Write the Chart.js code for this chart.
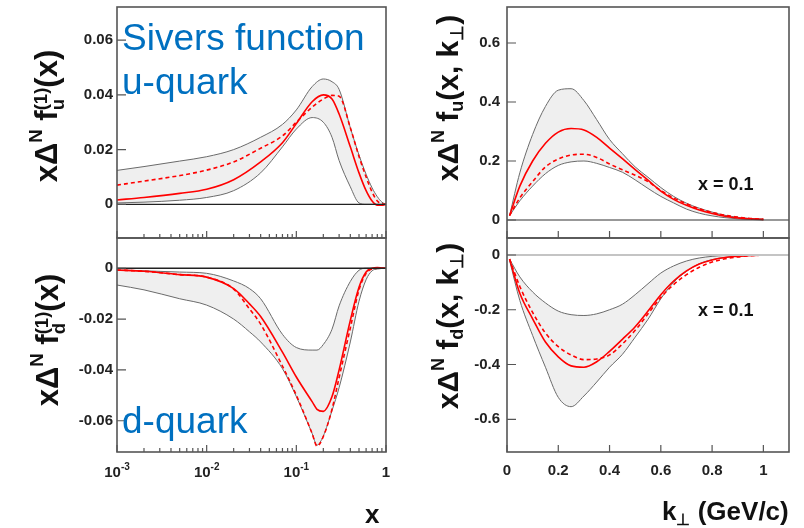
<!DOCTYPE html>
<html lang="en">
<head>
<meta charset="UTF-8">
<title>Sivers function</title>
<script src="https://cdn.jsdelivr.net/npm/chart.js"></script>
<style>
  body { margin: 0; background: #fff; font-family: "Liberation Sans", Arial, sans-serif; }
  #page { position: relative; width: 804px; height: 528px; overflow: hidden; }
  .panel { position: absolute; }
  .txt { position: absolute; white-space: nowrap; color: #111; line-height: 1; }
  .ytitle { font-weight: bold; font-size: 31px; transform: translate(-50%, -50%) rotate(-90deg); }
  .ytitle.k { font-size: 30px; }
  .ytitle sup { font-size: 0.6em; vertical-align: 0.8em; line-height: 0; }
  .ytitle sub, .xtitle sub { font-size: 0.6em; vertical-align: -0.3em; line-height: 0; }
  .ss { display: inline-block; font-size: 0.6em; line-height: 0.95; vertical-align: -0.4em; }
  .ss span { display: block; }
  .blue { position: absolute; color: #0070c0; font-size: 37px; line-height: 44px; white-space: nowrap; }
  .xeq { font-weight: bold; font-size: 18px; }
  .xtitle { font-weight: bold; font-size: 26px; }
</style>
</head>
<body>
<div id="page">
  <div class="panel" style="left:0;top:0;width:400px;height:240px"><canvas id="uX"></canvas></div>
  <div class="panel" style="left:0;top:236px;width:400px;height:292px"><canvas id="dX"></canvas></div>
  <div class="panel" style="left:400px;top:0;width:404px;height:240px"><canvas id="uK"></canvas></div>
  <div class="panel" style="left:400px;top:236px;width:404px;height:292px"><canvas id="dK"></canvas></div>

  <div class="txt ytitle" style="left:49px;top:116px">x&Delta;<sup>N</sup> f<span class="ss"><span>(1)</span><span>u</span></span>(x)</div>
  <div class="txt ytitle" style="left:50px;top:340px">x&Delta;<sup>N</sup> f<span class="ss"><span>(1)</span><span>d</span></span>(x)</div>
  <div class="txt ytitle k" style="left:448px;top:98px">x&Delta;<sup>N</sup> f<sub>u</sub>(x, k<sub>&perp;</sub>)</div>
  <div class="txt ytitle k" style="left:448px;top:326px">x&Delta;<sup>N</sup> f<sub>d</sub>(x, k<sub>&perp;</sub>)</div>

  <div class="blue" style="left:122px;top:16px">Sivers function<br>u-quark</div>
  <div class="blue" style="left:122px;top:399px">d-quark</div>

  <div class="txt xeq" style="left:698px;top:175px">x = 0.1</div>
  <div class="txt xeq" style="left:698px;top:301px">x = 0.1</div>

  <div class="txt xtitle" style="left:365px;top:501px">x</div>
  <div class="txt xtitle" style="left:662px;top:498px">k<sub>&perp;</sub> (GeV/c)</div>
</div>

<script>
// u-quark first moment vs x
const xU = [0.001, 0.002, 0.005, 0.01, 0.02, 0.04, 0.07, 0.1, 0.15, 0.2, 0.25, 0.3, 0.4, 0.5, 0.6, 0.7, 0.8, 0.9, 1.0];
const uUpper   = [0.0124, 0.0138, 0.0158, 0.0174, 0.0200, 0.0245, 0.0292, 0.0345, 0.0430, 0.0458, 0.0448, 0.0420, 0.0280, 0.0180, 0.0110, 0.0060, 0.0028, 0.0008, 0];
const uLower   = [0.0005, 0.0008, 0.0015, 0.0025, 0.0050, 0.0115, 0.0210, 0.0275, 0.0317, 0.0300, 0.0245, 0.0160, 0.0064, 0.0005, 0, 0, 0, 0, 0];
const uCentral = [0.0016, 0.0025, 0.0040, 0.0055, 0.0090, 0.0155, 0.0225, 0.0295, 0.0375, 0.0400, 0.0385, 0.0330, 0.0210, 0.0115, 0.0050, 0.0012, -0.0003, -0.0003, 0];
const uDashed  = [0.0070, 0.0085, 0.0105, 0.0125, 0.0155, 0.0205, 0.0250, 0.0300, 0.0355, 0.0385, 0.0398, 0.0395, 0.0280, 0.0175, 0.0100, 0.0045, 0.0012, 0.0002, 0];

// d-quark first moment vs x
const xD = [0.001, 0.002, 0.005, 0.01, 0.02, 0.03, 0.04, 0.07, 0.1, 0.15, 0.17, 0.2, 0.25, 0.3, 0.4, 0.5, 0.6, 0.7, 0.8, 1.0];
const dUpper   = [-0.0007, -0.0010, -0.0015, -0.0020, -0.0050, -0.0080, -0.0120, -0.0260, -0.0312, -0.0322, -0.0322, -0.0300, -0.0240, -0.0148, -0.0052, -0.0008, 0, 0, 0, 0];
const dLower   = [-0.0066, -0.0085, -0.0120, -0.0145, -0.0200, -0.0250, -0.0290, -0.0395, -0.0505, -0.0650, -0.0696, -0.0660, -0.0560, -0.0470, -0.0290, -0.0130, -0.0045, -0.0010, -0.0003, 0];
const dCentral = [-0.0007, -0.0012, -0.0025, -0.0035, -0.0080, -0.0140, -0.0190, -0.0330, -0.0428, -0.0525, -0.0555, -0.0563, -0.0505, -0.0400, -0.0205, -0.0075, -0.0015, 0, 0.0003, 0];
const dDashed  = [-0.0007, -0.0012, -0.0025, -0.0035, -0.0082, -0.0160, -0.0220, -0.0385, -0.0500, -0.0650, -0.0700, -0.0662, -0.0555, -0.0430, -0.0235, -0.0085, -0.0020, -0.0003, 0, 0];

// k_perp distributions at x = 0.1
const kPerp = [0.01, 0.05, 0.1, 0.15, 0.2, 0.25, 0.3, 0.35, 0.4, 0.45, 0.5, 0.55, 0.6, 0.65, 0.7, 0.75, 0.8, 0.85, 0.9, 0.95, 1.0];
const ukUpper   = [0.015, 0.16, 0.29, 0.385, 0.44, 0.445, 0.405, 0.34, 0.273, 0.225, 0.18, 0.145, 0.11, 0.08, 0.057, 0.04, 0.027, 0.016, 0.009, 0.005, 0.003];
const ukLower   = [0.015, 0.065, 0.115, 0.157, 0.185, 0.197, 0.2, 0.192, 0.178, 0.162, 0.136, 0.107, 0.08, 0.058, 0.037, 0.023, 0.014, 0.008, 0.004, 0.002, 0];
const ukCentral = [0.015, 0.115, 0.2, 0.26, 0.298, 0.31, 0.305, 0.28, 0.244, 0.208, 0.171, 0.135, 0.098, 0.07, 0.05, 0.034, 0.022, 0.013, 0.007, 0.004, 0.002];
const ukDashed  = [0.015, 0.075, 0.13, 0.18, 0.207, 0.22, 0.223, 0.212, 0.19, 0.17, 0.152, 0.13, 0.1, 0.075, 0.055, 0.038, 0.026, 0.016, 0.01, 0.005, 0.002];

const dkUpper   = [-0.015, -0.08, -0.135, -0.175, -0.205, -0.218, -0.221, -0.215, -0.2, -0.18, -0.145, -0.105, -0.066, -0.04, -0.022, -0.011, -0.005, -0.002, -0.001, -0.0005, 0];
const dkLower   = [-0.02, -0.166, -0.294, -0.41, -0.52, -0.554, -0.515, -0.464, -0.41, -0.363, -0.3, -0.235, -0.16, -0.1, -0.06, -0.032, -0.017, -0.009, -0.004, -0.002, 0];
const dkCentral = [-0.015, -0.14, -0.233, -0.318, -0.372, -0.405, -0.41, -0.39, -0.352, -0.308, -0.262, -0.205, -0.145, -0.095, -0.058, -0.033, -0.018, -0.009, -0.005, -0.002, 0];
const dkDashed  = [-0.015, -0.115, -0.21, -0.285, -0.335, -0.365, -0.382, -0.38, -0.365, -0.325, -0.275, -0.215, -0.155, -0.108, -0.072, -0.045, -0.026, -0.014, -0.007, -0.003, 0];

// tick positions and labels
const yTicksUx = [0, 0.02, 0.04, 0.06];
const yTicksDx = [0, -0.02, -0.04, -0.06];
const yTicksUk = [0, 0.2, 0.4, 0.6];
const yTicksDk = [0, -0.2, -0.4, -0.6];
const kTicks = [0, 0.2, 0.4, 0.6, 0.8, 1];
const logDecades = [0.001, 0.01, 0.1];
const logLabelVals = [0.001, 0.01, 0.1, 1];
const logLabels = [['10', '-3'], ['10', '-2'], ['10', '-1'], ['1', '']];

const logTicks = [];
logDecades.forEach(d => { for (let m = 1; m <= 9; m++) logTicks.push(d * m); });
logTicks.push(1);

const red = '#ff0000';
const bandLine = '#6a6a6a';
const bandFill = '#efefef';
const fontFam = '"Liberation Sans", Arial, sans-serif';

function pts(xs, ys) {
  return xs.map((x, i) => ({ x: x, y: ys[i] }));
}

// frame, inward ticks, zero line and log labels drawn from the chart's own scales
const framePlugin = {
  id: 'frame',
  afterDatasetsDraw(chart, args, opts) {
    const ctx = chart.ctx;
    const a = chart.chartArea;
    const x = chart.scales.x, y = chart.scales.y;
    ctx.save();
    const y0 = y.getPixelForValue(0);
    ctx.strokeStyle = opts.zeroColor;
    ctx.lineWidth = opts.zeroWidth;
    ctx.beginPath();
    ctx.moveTo(a.left, y0);
    ctx.lineTo(a.right, y0);
    ctx.stroke();

    ctx.strokeStyle = '#555';
    ctx.lineWidth = 1.2;
    ctx.beginPath();
    y.ticks.forEach(t => {
      const py = y.getPixelForValue(t.value);
      ctx.moveTo(a.left, py);
      ctx.lineTo(a.left + 9, py);
    });
    x.ticks.forEach(t => {
      const px = x.getPixelForValue(t.value);
      let len = 7;
      if (x.type === 'logarithmic') {
        const m = t.value / Math.pow(10, Math.floor(Math.log10(t.value) + 1e-9));
        len = Math.abs(m - 1) < 1e-6 ? 7 : 4;
      }
      ctx.moveTo(px, a.bottom);
      ctx.lineTo(px, a.bottom - len);
    });
    ctx.stroke();

    ctx.lineWidth = 1.6;
    ctx.strokeRect(a.left, a.top, a.right - a.left, a.bottom - a.top);

    if (opts.logLabels) {
      ctx.fillStyle = '#222';
      ctx.textBaseline = 'alphabetic';
      logLabelVals.forEach((v, i) => {
        const px = x.getPixelForValue(v);
        const base = logLabels[i][0], exp = logLabels[i][1];
        ctx.font = 'bold 15px ' + fontFam;
        const wb = ctx.measureText(base).width;
        ctx.font = 'bold 10px ' + fontFam;
        const we = exp ? ctx.measureText(exp).width : 0;
        const left = px - (wb + we) / 2;
        ctx.font = 'bold 15px ' + fontFam;
        ctx.fillText(base, left, a.bottom + 25);
        if (exp) {
          ctx.font = 'bold 10px ' + fontFam;
          ctx.fillText(exp, left + wb, a.bottom + 18);
        }
      });
    }
    ctx.restore();
  }
};

function makeChart(id, o) {
  const datasets = [
    { data: pts(o.xs, o.upper), borderColor: bandLine, borderWidth: 1, backgroundColor: bandFill, fill: '+1', order: 3 },
    { data: pts(o.xs, o.lower), borderColor: bandLine, borderWidth: 1, fill: false, order: 2 },
    { data: pts(o.xs, o.central), borderColor: red, borderWidth: 1.6, fill: false, order: 1 },
    { data: pts(o.xs, o.dashed), borderColor: red, borderWidth: 1.6, borderDash: [4, 3], fill: false, order: 0 }
  ];
  return new Chart(document.getElementById(id), {
    type: 'line',
    data: { datasets: datasets },
    options: {
      responsive: true,
      maintainAspectRatio: false,
      animation: false,
      layout: { padding: o.padding },
      elements: { point: { radius: 0 }, line: { cubicInterpolationMode: 'monotone' } },
      plugins: {
        legend: { display: false },
        tooltip: { enabled: false },
        frame: { zeroColor: o.zeroColor, zeroWidth: o.zeroWidth, logLabels: o.logLabels }
      },
      scales: {
        x: {
          type: o.xType,
          min: o.xMin,
          max: o.xMax,
          grid: { display: false, drawTicks: false },
          border: { display: false },
          ticks: {
            display: o.xLabels,
            autoSkip: false,
            maxRotation: 0,
            padding: 10,
            color: '#222',
            font: { family: fontFam, size: 15, weight: 'bold' },
            callback: v => String(v)
          },
          afterBuildTicks: s => { s.ticks = o.xTicks.map(v => ({ value: v })); },
          afterFit: s => { s.height = o.xHeight; s.paddingLeft = 0; s.paddingRight = 0; }
        },
        y: {
          min: o.yMin,
          max: o.yMax,
          grid: { display: false, drawTicks: false },
          border: { display: false },
          ticks: {
            padding: o.yPad,
            color: '#222',
            font: { family: fontFam, size: 15, weight: 'bold' },
            callback: v => String(Math.round(v * 1000) / 1000)
          },
          afterBuildTicks: s => { s.ticks = o.yTicks.map(v => ({ value: v })); },
          afterFit: s => { s.width = o.yWidth; s.paddingTop = 0; s.paddingBottom = 0; }
        }
      }
    },
    plugins: [framePlugin]
  });
}

makeChart('uX', {
  xs: xU, upper: uUpper, lower: uLower, central: uCentral, dashed: uDashed,
  xType: 'logarithmic', xMin: 0.001, xMax: 1, xTicks: logTicks, xLabels: false, xHeight: 0,
  yMin: -0.0123, yMax: 0.0721, yTicks: yTicksUx, yWidth: 117, yPad: 4,
  padding: { top: 7, right: 14, bottom: 2, left: 0 },
  zeroColor: '#222', zeroWidth: 1.4, logLabels: false
});

makeChart('dX', {
  xs: xD, upper: dUpper, lower: dLower, central: dCentral, dashed: dDashed,
  xType: 'logarithmic', xMin: 0.001, xMax: 1, xTicks: logTicks, xLabels: false, xHeight: 0,
  yMin: -0.0723, yMax: 0.0119, yTicks: yTicksDx, yWidth: 117, yPad: 4,
  padding: { top: 2, right: 14, bottom: 76, left: 0 },
  zeroColor: '#222', zeroWidth: 1.4, logLabels: true
});

makeChart('uK', {
  xs: kPerp, upper: ukUpper, lower: ukLower, central: ukCentral, dashed: ukDashed,
  xType: 'linear', xMin: 0, xMax: 1.1, xTicks: kTicks, xLabels: false, xHeight: 0,
  yMin: -0.061, yMax: 0.722, yTicks: yTicksUk, yWidth: 107, yPad: 7,
  padding: { top: 7, right: 15, bottom: 2, left: 0 },
  zeroColor: '#333', zeroWidth: 1.2, logLabels: false
});

makeChart('dK', {
  xs: kPerp, upper: dkUpper, lower: dkLower, central: dkCentral, dashed: dkDashed,
  xType: 'linear', xMin: 0, xMax: 1.1, xTicks: kTicks, xLabels: true, xHeight: 30,
  yMin: -0.7195, yMax: 0.062, yTicks: yTicksDk, yWidth: 107, yPad: 7,
  padding: { top: 2, right: 15, bottom: 46, left: 0 },
  zeroColor: '#c4c4c4', zeroWidth: 2.2, logLabels: false
});
</script>
</body>
</html>
